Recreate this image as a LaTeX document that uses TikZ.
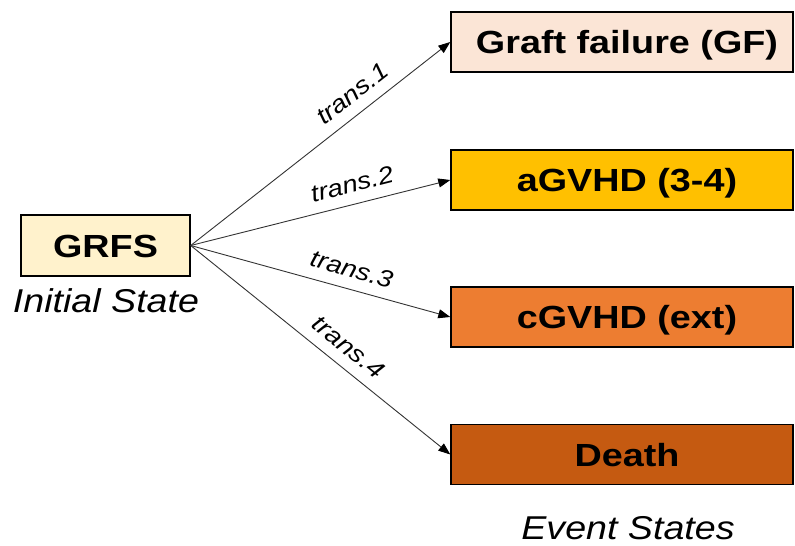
\documentclass[tikz,border=0pt]{standalone}
\usepackage{fontspec}
\setmainfont{Liberation Sans}
\usetikzlibrary{arrows.meta}
\definecolor{cream}{HTML}{FFF2CC}
\definecolor{peach}{HTML}{FBE5D6}
\definecolor{gold}{HTML}{FFC000}
\definecolor{orangeA}{HTML}{ED7D31}
\definecolor{rust}{HTML}{C55A11}
\tikzset{
  statebox/.style={draw=black, line width=1.4pt, inner sep=0pt,
    font=\bfseries\fontsize{32}{36}\selectfont, text height=23pt, text depth=0pt},
  eventbox/.style={statebox, minimum width=342pt, minimum height=60pt},
  trarrow/.style={draw=black!80, line width=0.9pt, -{Triangle[length=12pt,width=9pt,color=black]}},
  translabel/.style={sloped, above=11pt, inner sep=0pt, font=\itshape\fontsize{24}{28}\selectfont},
  caption/.style={anchor=base, inner sep=0pt, font=\itshape\fontsize{33}{38}\selectfont}
}
\newcommand{\wide}[2][1.18]{\scalebox{#1}[1]{#2}}
\begin{document}
\begin{tikzpicture}[x=1pt,y=-1pt]
\useasboundingbox (0,0) rectangle (795,546);
\node[statebox, fill=cream, minimum width=169pt, minimum height=61pt] (grfs) at (105.5,245.5) {\wide{GRFS}};
\node[caption] (init) at (106,312) {\wide[1.14]{Initial State}};
\node[eventbox, fill=peach] (gf) at (622,42) {\hspace*{10pt}\wide{Graft failure (GF)}};
\node[eventbox, fill=gold] (agvhd) at (622,180) {\hspace*{10pt}\wide{aGVHD (3-4)}};
\node[eventbox, fill=orangeA] (cgvhd) at (622,317) {\hspace*{10pt}\wide{cGVHD (ext)}};
\node[eventbox, fill=rust] (death) at (622,454.5) {\hspace*{10pt}\wide{Death}};
\node[caption] (event) at (628,539) {\wide[1.14]{Event States}};
\draw[trarrow] (grfs.east) -- node[translabel, pos=0.67] {\wide[1.15]{trans.1}} (gf.west);
\draw[trarrow] (grfs.east) -- node[translabel, pos=0.64] {\wide[1.15]{trans.2}} (agvhd.west);
\draw[trarrow] (grfs.east) -- node[translabel, pos=0.60] {\wide[1.15]{trans.3}} (cgvhd.west);
\draw[trarrow] (grfs.east) -- node[translabel, pos=0.56] {\wide[1.15]{trans.4}} (death.west);
\end{tikzpicture}
\end{document}
